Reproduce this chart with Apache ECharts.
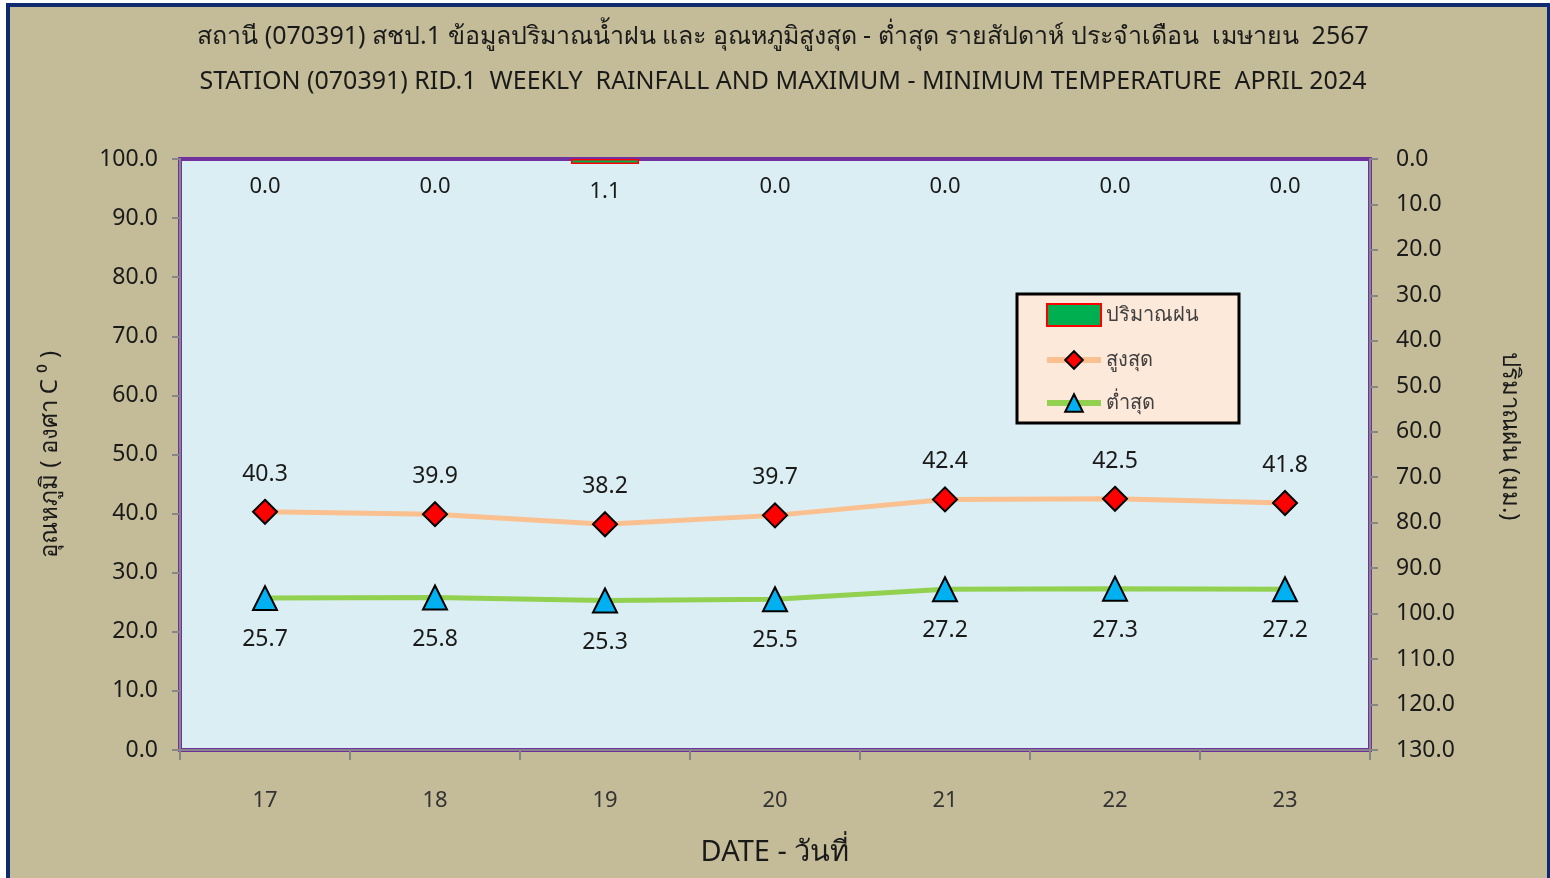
<!DOCTYPE html>
<html>
<head>
<meta charset="utf-8">
<script src="https://cdn.jsdelivr.net/npm/echarts@6/dist/echarts.min.js"></script>
<style>
  html, body { margin: 0; padding: 0; width: 1550px; height: 878px; overflow: hidden; background: #ffffff; }
  #frame { position: absolute; left: 6px; top: 3px; width: 1537px; height: 880px;
           background: #C4BC98; border-top: 4px solid #0F2A6E; border-left: 4px solid #0F2A6E; border-right: 3px solid #0F2A6E; }
  #chart { position: absolute; left: 0; top: 0; width: 1550px; height: 878px; }
</style>
</head>
<body>
<div id="frame"></div>
<div id="chart"></div>
<script>
const categories = ['17', '18', '19', '20', '21', '22', '23'];
const rainfall = [0.0, 0.0, 1.1, 0.0, 0.0, 0.0, 0.0];
const maxTemp = [40.3, 39.9, 38.2, 39.7, 42.4, 42.5, 41.8];
const minTemp = [25.7, 25.8, 25.3, 25.5, 27.2, 27.3, 27.2];
const tempTicks = { min: 0, max: 100, interval: 10 };
const rainTicks = { min: 0, max: 130, interval: 10 };

const FONT = '"Noto Sans", "DejaVu Sans", sans-serif';
const chart = echarts.init(document.getElementById('chart'));
chart.setOption({
  backgroundColor: 'transparent',
  textStyle: { fontFamily: FONT },
  title: [
    { text: 'สถานี (070391) สชป.1 ข้อมูลปริมาณน้ำฝน และ อุณหภูมิสูงสุด - ต่ำสุด รายสัปดาห์ ประจำเดือน  เมษายน  2567',
      left: 778, top: 19, textAlign: 'center',
      textStyle: { fontSize: 25, fontWeight: 'normal', color: '#1a1a1a', fontFamily: FONT } },
    { text: 'STATION (070391) RID.1  WEEKLY  RAINFALL AND MAXIMUM - MINIMUM TEMPERATURE  APRIL 2024',
      left: 778, top: 64, textAlign: 'center',
      textStyle: { fontSize: 25, fontWeight: 'normal', color: '#1a1a1a', fontFamily: FONT } }
  ],
  legend: {
    orient: 'vertical', left: 1017, top: 294,
    backgroundColor: '#FDE9D9', borderColor: '#000', borderWidth: 3,
    padding: [9, 40, 10, 27], itemGap: 23, itemWidth: 54, itemHeight: 22,
    textStyle: { fontSize: 20, color: '#404040', fontFamily: FONT },
    data: [
      { name: 'ปริมาณฝน', icon: 'rect' },
      { name: 'สูงสุด', lineStyle: { width: 6 } },
      { name: 'ต่ำสุด', lineStyle: { width: 6 } }
    ]
  },
  grid: { left: 180, right: 180, top: 159, bottom: 128, show: true,
          backgroundColor: '#DBEEF4', borderColor: '#7030A0', borderWidth: 4 },
  xAxis: {
    type: 'category', data: categories, boundaryGap: true,
    name: 'DATE - วันที่', nameLocation: 'middle', nameGap: 88,
    nameTextStyle: { fontSize: 29, color: '#1a1a1a' },
    axisLine: { show: true, lineStyle: { color: '#868686', width: 2 } },
    axisTick: { show: true, alignWithLabel: false, length: 10, lineStyle: { color: '#868686', width: 2 } },
    axisLabel: { fontSize: 22, color: '#333', margin: 40 }
  },
  yAxis: [
    { type: 'value', min: tempTicks.min, max: tempTicks.max, interval: tempTicks.interval, position: 'left',
      name: 'อุณหภูมิ ( องศา C ⁰ )', nameLocation: 'middle', nameGap: 118, nameRotate: 90,
      nameTextStyle: { fontSize: 24, color: '#1a1a1a' },
      splitLine: { show: false },
      axisLine: { show: true, lineStyle: { color: '#868686', width: 2 } },
      axisTick: { show: true, length: 8, lineStyle: { color: '#868686', width: 2 } },
      axisLabel: { fontSize: 23, color: '#1a1a1a', margin: 22, formatter: v => v.toFixed(1) } },
    { type: 'value', min: rainTicks.min, max: rainTicks.max, interval: rainTicks.interval, position: 'right', inverse: true,
      name: 'ปริมาณฝน (มม.)', nameLocation: 'middle', nameGap: 128, nameRotate: -90,
      nameTextStyle: { fontSize: 24, color: '#1a1a1a', padding: [0, 36, 0, 0] },
      splitLine: { show: false },
      axisLine: { show: true, lineStyle: { color: '#868686', width: 2 } },
      axisTick: { show: true, length: 8, lineStyle: { color: '#868686', width: 2 } },
      axisLabel: { fontSize: 23, color: '#1a1a1a', margin: 26, formatter: v => v.toFixed(1) } }
  ],
  series: [
    { name: 'ปริมาณฝน', type: 'bar', yAxisIndex: 1, barWidth: '40%',
      data: rainfall.map(v => v > 0 ? v : { value: v, itemStyle: { borderWidth: 0 } }),
      itemStyle: { color: '#00B050', borderColor: '#FF0000', borderWidth: 1.5 },
      label: { show: true, position: 'bottom', distance: 17, fontSize: 22, color: '#1a1a1a',
               formatter: p => p.value.toFixed(1) } },
    { name: 'สูงสุด', type: 'line', yAxisIndex: 0, data: maxTemp,
      symbol: 'diamond', symbolSize: 24,
      lineStyle: { color: '#FAC090', width: 5 },
      itemStyle: { color: '#FF0000', borderColor: '#000', borderWidth: 2 },
      label: { show: true, position: 'top', distance: 13, fontSize: 23, color: '#1a1a1a',
               formatter: p => p.value.toFixed(1) } },
    { name: 'ต่ำสุด', type: 'line', yAxisIndex: 0, data: minTemp,
      symbol: 'triangle', symbolSize: 24,
      lineStyle: { color: '#92D050', width: 5 },
      itemStyle: { color: '#00B0F0', borderColor: '#000', borderWidth: 2 },
      label: { show: true, position: 'bottom', distance: 17, fontSize: 23, color: '#1a1a1a',
               formatter: p => p.value.toFixed(1) } }
  ]
});
</script>
</body>
</html>
